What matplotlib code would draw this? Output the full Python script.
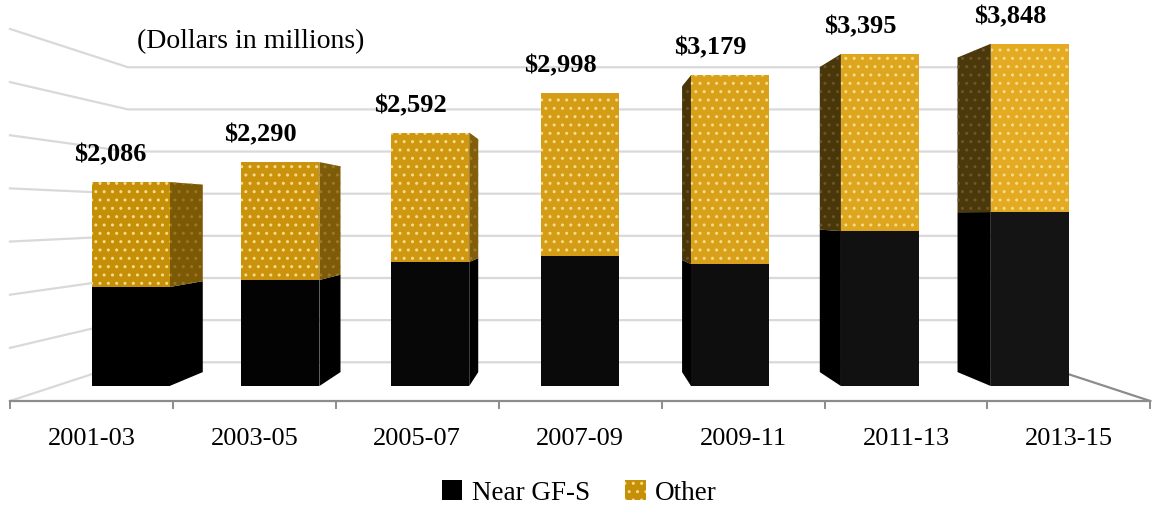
import matplotlib
matplotlib.use("Agg")
import matplotlib.pyplot as plt
from matplotlib.patches import Polygon, Patch
import numpy as np

# ================ DATA ================
periods = ["2001-03", "2003-05", "2005-07", "2007-09", "2009-11", "2011-13", "2013-15"]
near_gfs = [1012, 1084, 1268, 1329, 1247, 1585, 1779]
other = [1074, 1206, 1324, 1669, 1932, 1810, 2069]
totals = [2086, 2290, 2592, 2998, 3179, 3395, 3848]
total_labels = ["$2,086", "$2,290", "$2,592", "$2,998", "$3,179", "$3,395", "$3,848"]
grid_values = [0, 500, 1000, 1500, 2000, 2500, 3000, 3500]
y_max = 3500   # axis max, taller bars get clipped like in the original

# ================ LOOK ================
W, H = 1159, 518
x0_px, cat_px = 10, 162.9       # floor front edge, px per category
y0_px, val_px = 401, 0.1063     # floor front line, px per $M
vp = (3.5, (401 - 214) / 0.1063)  # vanishing point in data units
k_front, k_back, k_wall = 0.92, 0.92 * 0.919, 0.793
bar_w = 0.52

gold_dark = np.array([0xC6, 0x8F, 0x08]) / 255
gold_light = np.array([0xE3, 0xAA, 0x22]) / 255
grid_col = "#d9d9d9"
axis_col = "#8c8c8c"
serif = ["Liberation Serif", "DejaVu Serif"]
plt.rcParams["font.family"] = serif


def proj(x, v, k):
    return (vp[0] + k * (x - vp[0]), vp[1] + k * (v - vp[1]))


fig = plt.figure(figsize=(W / 100, H / 100), dpi=100)
ax = fig.add_axes([0, 0, 1, 1])
ax.set_xlim(-x0_px / cat_px, (W - x0_px) / cat_px)
ax.set_ylim((y0_px - H) / val_px, y0_px / val_px)
ax.axis("off")

n = len(periods)

# ---- walls ----
for g in grid_values:
    a = proj(0, g, 1.0)
    b = proj(0, g, k_wall)
    c = proj(n, g, k_wall)
    ax.plot([a[0], b[0], c[0]], [a[1], b[1], c[1]], color=grid_col, lw=1.6, zorder=1)

# ---- floor ----
fl = proj(0, 0, 1.0)
fr = proj(n, 0, 1.0)
br = proj(n, 0, k_wall)
ax.plot([fl[0], fr[0]], [fl[1], fr[1]], color=axis_col, lw=1.6, zorder=2)
ax.plot([fr[0], br[0]], [fr[1], br[1]], color=axis_col, lw=1.6, zorder=2)
tick_len = 7 / val_px
for i in range(n + 1):
    ax.plot([i, i], [0, -tick_len], color=axis_col, lw=1.4, zorder=2)
for i, lab in enumerate(periods):
    ax.text(i + 0.5, -38 / val_px, lab, ha="center", va="center", fontsize=19)

# ---- bars ----
for i in range(n):
    t = i / (n - 1)
    gold = gold_dark * (1 - t) + gold_light * t
    blk = np.array([0.08, 0.08, 0.08]) * t
    cx = i + 0.5
    gold_side = gold * (0.62 if cx < vp[0] else 0.33)
    xl, xr = cx - bar_w / 2, cx + bar_w / 2
    segs = [(0, near_gfs[i], blk, "black", None),
            (near_gfs[i], near_gfs[i] + other[i], gold, gold_side, "..")]
    for lo, hi, fc, sc, hatch in segs:
        lo, hi = min(lo, y_max), min(hi, y_max)
        if hi <= lo:
            continue
        # side face
        if abs(cx - vp[0]) > 1e-6:
            xs = xr if cx < vp[0] else xl
            pts = [proj(xs, lo, k_front), proj(xs, hi, k_front),
                   proj(xs, hi, k_back), proj(xs, lo, k_back)]
            dot = np.clip(np.array(matplotlib.colors.to_rgb(sc)) + 0.12, 0, 1)
            ax.add_patch(Polygon(pts, closed=True, facecolor=sc, edgecolor=tuple(dot),
                                 hatch=hatch, lw=0, zorder=3))
        # front face
        pts = [proj(xl, lo, k_front), proj(xr, lo, k_front),
               proj(xr, hi, k_front), proj(xl, hi, k_front)]
        ax.add_patch(Polygon(pts, closed=True, facecolor=fc, edgecolor="#f6dc8c",
                             hatch=hatch, lw=0, zorder=4))

    # total label
    top = proj(cx, min(totals[i], y_max), k_front)
    ax.text(top[0] - 20 / cat_px, top[1] + 27 / val_px, total_labels[i],
            ha="center", va="center", fontsize=19, fontweight="bold")

ax.text(137 / cat_px - x0_px / cat_px, (y0_px - 42) / val_px, "(Dollars in millions)",
        ha="left", va="center", fontsize=20)

handles = [Patch(facecolor="black", edgecolor="black", lw=0, label="Near GF-S"),
           Patch(facecolor=tuple(gold_dark), edgecolor="#f6dc8c", hatch="..", lw=0, label="Other")]
fig.legend(handles=handles, loc="center", bbox_to_anchor=(0.5, 25 / H), ncol=2,
           frameon=False, fontsize=19.5, handlelength=0.75, handleheight=0.75,
           handletextpad=0.35, columnspacing=1.3)

fig.savefig("out.png", dpi=100)
